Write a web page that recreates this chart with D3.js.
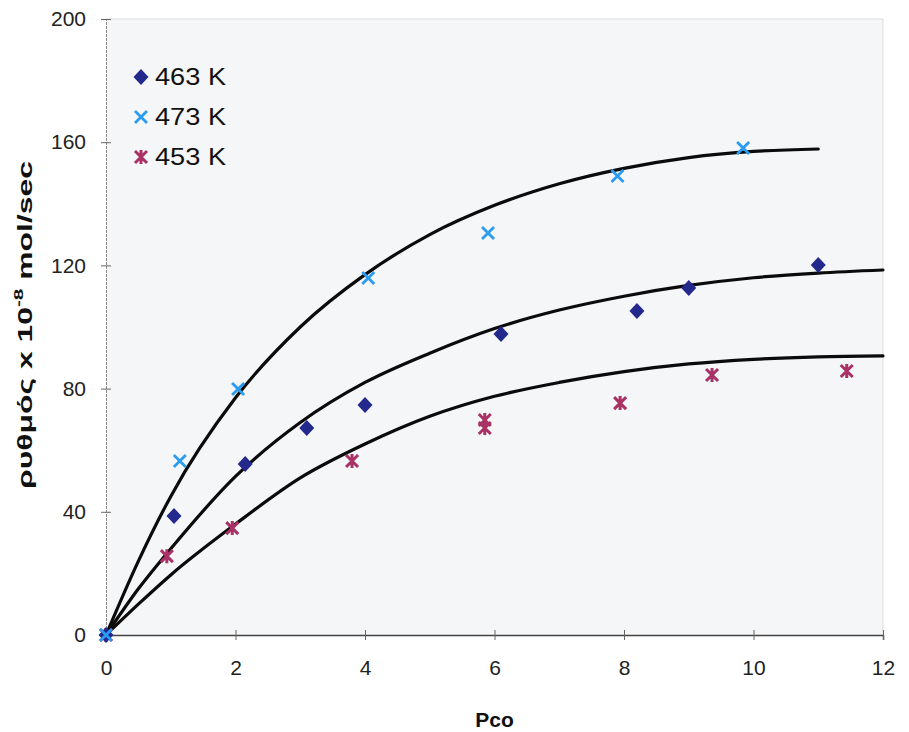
<!DOCTYPE html>
<html>
<head>
<meta charset="utf-8">
<script src="https://cdn.jsdelivr.net/npm/d3@7"></script>
<style>
  html, body { margin: 0; padding: 0; background: #ffffff; }
  svg { display: block; font-family: "Liberation Sans", Arial, sans-serif; }
</style>
</head>
<body>
<svg id="chart" width="909" height="732"></svg>
<script>
// Measured reaction rates (x 10^-8 mol/sec) against CO pressure
const series = ["463 K", "473 K", "453 K"];

const pco463 = [0, 1.05, 2.15, 3.1, 4.0, 6.1, 8.2, 9.0, 11.0];
const rate463 = [0, 38.6, 55.5, 67.2, 74.7, 97.7, 105.2, 112.7, 120.1];

const pco473 = [0, 1.14, 2.04, 4.05, 5.9, 7.9, 9.84];
const rate473 = [0, 56.5, 79.9, 115.9, 130.5, 149, 158.1];

const pco453 = [0, 0.94, 1.95, 3.8, 5.85, 5.85, 7.94, 9.36, 11.44];
const rate453 = [0, 25.6, 34.7, 56.5, 69.8, 67.2, 75.3, 84.4, 85.7];

// Fitted model curves, sampled along Pco
const fitX = [0, 0.5, 1, 2, 3, 4, 5, 6, 7, 8, 9, 10, 11, 12];
const fit473 = [0, 24, 45, 77, 100, 117, 130, 139.5, 146.5, 151.5, 155, 157, 157.8];
const fit463 = [0, 15, 28, 51.5, 69, 82, 91.5, 99.5, 105.5, 110, 113.5, 116, 117.5, 118.5];
const fit453 = [0, 10, 19.5, 36, 51, 62, 71, 77.5, 82, 85.5, 88, 89.5, 90.3, 90.6];

const xTicks = [0, 2, 4, 6, 8, 10, 12];
const yTicks = [0, 40, 80, 120, 160, 200];

const svg = d3.select("#chart");
const plotLeft = 106, plotRight = 883, plotTop = 19, plotBottom = 635;

const x = d3.scaleLinear().domain([0, 12]).range([plotLeft, plotRight]);
const y = d3.scaleLinear().domain([0, 200]).range([plotBottom, plotTop]);

// plot area
svg.append("rect")
  .attr("x", plotLeft).attr("y", plotTop)
  .attr("width", plotRight - plotLeft).attr("height", plotBottom - plotTop)
  .attr("fill", "#f5f6f8");
svg.append("path")
  .attr("d", `M${plotLeft},${plotTop}H${plotRight}V${plotBottom}`)
  .attr("fill", "none").attr("stroke", "#dcdde0").attr("stroke-width", 1);

// y axis
const yAxis = svg.append("g").attr("transform", `translate(${plotLeft},0)`)
  .call(d3.axisLeft(y).tickValues(yTicks).tickSize(5).tickPadding(15));
yAxis.attr("font-size", 21).attr("font-family", "Liberation Sans, Arial, sans-serif");
yAxis.select(".domain").attr("stroke", "#8a8a8a").attr("stroke-dasharray", "3,1");
yAxis.selectAll(".tick line").attr("x1", 5).attr("x2", -5).attr("stroke", "#666");
yAxis.selectAll(".tick text").attr("font-size", 21).attr("fill", "#222");

// x axis
const xAxis = svg.append("g").attr("transform", `translate(0,${plotBottom})`)
  .call(d3.axisBottom(x).tickValues(xTicks).tickSize(5).tickPadding(20));
xAxis.attr("font-size", 21).attr("font-family", "Liberation Sans, Arial, sans-serif");
xAxis.select(".domain").attr("stroke", "#444").attr("stroke-width", 1.5);
xAxis.selectAll(".tick line").attr("y1", -5).attr("y2", 5).attr("stroke", "#666");
xAxis.selectAll(".tick text").attr("font-size", 21).attr("fill", "#222");

// axis titles
svg.append("text")
  .attr("x", (plotLeft + plotRight) / 2).attr("y", 727)
  .attr("text-anchor", "middle").attr("font-size", 21).attr("font-weight", "bold")
  .attr("fill", "#111").text("Pco");

const yt = svg.append("text")
  .attr("transform", "translate(32,325) rotate(-90)")
  .attr("text-anchor", "middle").attr("font-size", 20).attr("font-weight", "bold")
  .attr("fill", "#111");
yt.append("tspan").text("ρυθμός x 10");
yt.append("tspan").attr("dy", -9).attr("font-size", 13).text("-8");
yt.append("tspan").attr("dy", 9).text(" mol/sec");
yt.attr("textLength", 328).attr("lengthAdjust", "spacingAndGlyphs");

// fitted curves
const line = d3.line().x(d => x(d[0])).y(d => y(d[1])).curve(d3.curveMonotoneX);
[fit473, fit463, fit453].forEach(vals => {
  svg.append("path")
    .datum(vals.map((v, i) => [fitX[i], v]))
    .attr("d", line)
    .attr("fill", "none").attr("stroke", "#0b0b0b").attr("stroke-width", 3.2)
    .attr("stroke-linecap", "round");
});

// marker glyphs
const colors = { "463 K": "#23288c", "473 K": "#2b9cf0", "453 K": "#a83266" };
function drawMarker(g, kind, cx, cy) {
  if (kind === "463 K") {
    g.append("path")
      .attr("d", `M${cx},${cy - 8}L${cx + 7.5},${cy}L${cx},${cy + 8}L${cx - 7.5},${cy}Z`)
      .attr("fill", colors[kind]);
  } else if (kind === "473 K") {
    const s = 6;
    g.append("path")
      .attr("d", `M${cx - s},${cy - s}L${cx + s},${cy + s}M${cx - s},${cy + s}L${cx + s},${cy - s}`)
      .attr("stroke", colors[kind]).attr("stroke-width", 2.8).attr("fill", "none");
  } else {
    const s = 6;
    g.append("path")
      .attr("d", `M${cx - s},${cy - s}L${cx + s},${cy + s}M${cx - s},${cy + s}L${cx + s},${cy - s}M${cx},${cy - s - 1}L${cx},${cy + s + 1}`)
      .attr("stroke", colors[kind]).attr("stroke-width", 3).attr("fill", "none");
  }
}

const marks = svg.append("g");
const sets = [
  ["453 K", pco453, rate453],
  ["463 K", pco463, rate463],
  ["473 K", pco473, rate473]
];
sets.forEach(([name, xs, ys]) => {
  xs.forEach((p, i) => drawMarker(marks, name, x(p), y(ys[i])));
});

// legend
const legend = svg.append("g");
series.forEach((name, i) => {
  const ly = 77 + i * 40;
  drawMarker(legend, name, 141, ly);
  legend.append("text")
    .attr("x", 155).attr("y", ly + 8)
    .attr("font-size", 23).attr("fill", "#111")
    .attr("textLength", 71).attr("lengthAdjust", "spacingAndGlyphs")
    .text(name);
});
</script>
</body>
</html>
